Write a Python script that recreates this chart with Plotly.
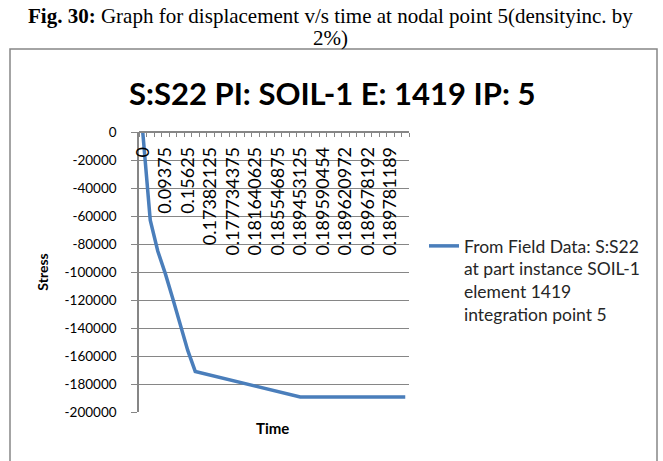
import plotly.graph_objects as go

# time values shown on the category axis (every third category is labelled)
time_labels = ["0", "0.09375", "0.15625", "0.17382125", "0.177734375", "0.181640625",
               "0.185546875", "0.189453125", "0.189590454", "0.189620972",
               "0.189678192", "0.189781189"]

# S:S22 stress, one value per time step (36 steps)
stress = [0, -63000, -85000, -101000, -119000, -137000, -156000, -171000,
          -172300, -173600, -174900, -176200, -177500, -178800, -180100,
          -181400, -182700, -184000, -185300, -186600, -188000, -189300,
          -189300, -189300, -189300, -189300, -189300, -189300, -189300,
          -189300, -189300, -189300, -189300, -189300, -189300, -189300]

y_ticks = [0, -20000, -40000, -60000, -80000, -100000, -120000, -140000,
           -160000, -180000, -200000]
y_tick_labels = [str(v) for v in y_ticks]

series_name = ("From Field Data: S:S22<br>at part instance SOIL-1<br>"
               "element 1419<br>integration point 5")

W, H = 663, 461
L, T = 139, 132
PW, PH = 270, 280
R, B = W - L - PW, H - T - PH

def px(x):
    return (x - L) / PW

def py(y):
    return (T + PH - y) / PH

steps = list(range(len(stress)))
grey = "#868686"
calibri = "Lato, Arial, sans-serif"
times = "Liberation Serif, Times New Roman, serif"

fig = go.Figure()
fig.add_trace(go.Scatter(x=steps, y=stress, mode="lines", name=series_name,
                         line=dict(color="#4A7EBB", width=3.5)))

fig.update_layout(
    width=W, height=H,
    margin=dict(l=L, r=R, t=T, b=B, pad=0),
    paper_bgcolor="white", plot_bgcolor="white",
    showlegend=True,
    legend=dict(x=px(424), y=py(228), xanchor="left", yanchor="top",
                valign="top", itemwidth=30, bgcolor="rgba(0,0,0,0)",
                font=dict(family=calibri, size=17.5, color="#262626")),
    xaxis=dict(range=[-0.5, len(stress) - 0.5], anchor="free", position=1, side="bottom",
               tickmode="array", tickvals=steps[::3], ticktext=time_labels,
               tickangle=-90, ticks="", ticklabelstandoff=7,
               tickfont=dict(family=calibri, size=18, color="black"),
               showline=True, linecolor=grey, linewidth=1.5,
               showgrid=False, zeroline=False,
               minor=dict(tickmode="linear", tick0=-0.5, dtick=1, ticks="outside",
                          ticklen=4, tickcolor=grey, tickwidth=1, showgrid=False)),
    yaxis=dict(range=[-200000, 0], tickmode="array", tickvals=y_ticks,
               ticktext=y_tick_labels, ticks="outside", ticklen=6, tickcolor=grey,
               tickwidth=1.3, ticklabelstandoff=12,
               tickfont=dict(family=calibri, size=13.5, color="black"),
               showline=True, linecolor=grey, linewidth=1.5,
               showgrid=True, gridcolor=grey, gridwidth=1.3, zeroline=False,
               title=dict(text="<b>Stress</b>", standoff=13,
                          font=dict(family=calibri, size=14, color="black"))),
    shapes=[dict(type="rect", xref="paper", yref="paper",
                 x0=px(10), x1=px(657), y0=py(475), y1=py(49),
                 line=dict(color=grey, width=1.5), fillcolor="rgba(0,0,0,0)", layer="below")],
    annotations=[
        dict(text="<b>Fig. 30:</b> Graph for displacement v/s time at nodal point 5(densityinc. by",
             x=px(330), xref="paper", y=py(16), yref="paper", xanchor="center", yanchor="middle",
             showarrow=False, font=dict(family=times, size=21, color="black")),
        dict(text="2%)", x=px(330), y=py(38), xref="paper", yref="paper",
             xanchor="center", yanchor="middle", showarrow=False,
             font=dict(family=times, size=21, color="black")),
        dict(text="<b>S:S22 PI: SOIL-1 E: 1419 IP: 5</b>", x=px(332), y=py(93),
             xref="paper", yref="paper", xanchor="center", yanchor="middle", showarrow=False,
             font=dict(family=calibri, size=31, color="black")),
        dict(text="<b>Time</b>", x=px(272), y=py(428), xref="paper", yref="paper",
             xanchor="center", yanchor="middle", showarrow=False,
             font=dict(family=calibri, size=15, color="black")),
    ],
)

# drop the browser's default 8px body margin so the figure fills the window
fig.write_html("out.html", config={"displayModeBar": False},
               post_script="document.body.style.margin = '0';")
